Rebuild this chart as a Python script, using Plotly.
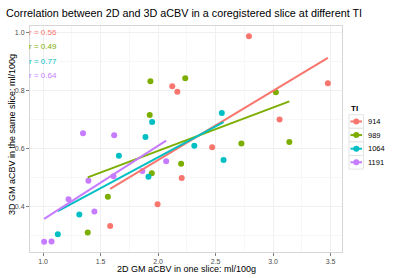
import numpy as np
import plotly.graph_objects as go

# ---- data ----
groups = ["914", "989", "1064", "1191"]
colors = ["#F8766D", "#7CAE00", "#00BFC4", "#C77CFF"]
r_labels = ["r = 0.56", "r = 0.49", "r = 0.77", "r = 0.64"]
r_label_y = [1.0, 0.95, 0.90, 0.85]

x_914 = [2.79, 2.123, 2.167, 3.476, 3.056, 2.47, 2.205, 1.995, 1.583]
y_914 = [0.986, 0.814, 0.795, 0.824, 0.700, 0.604, 0.498, 0.408, 0.333]

x_989 = [1.933, 2.236, 3.024, 1.927, 2.20, 1.945, 1.563, 1.388, 2.724, 3.141]
y_989 = [0.831, 0.842, 0.793, 0.715, 0.547, 0.515, 0.434, 0.311, 0.617, 0.622]

x_1064 = [1.948, 2.554, 1.89, 1.659, 2.315, 2.569, 1.916, 1.315, 1.128]
y_1064 = [0.691, 0.722, 0.639, 0.575, 0.609, 0.560, 0.503, 0.373, 0.305]

x_1191 = [1.347, 1.618, 2.07, 1.863, 1.394, 1.612, 1.221, 1.446, 1.009, 1.073]
y_1191 = [0.652, 0.645, 0.556, 0.522, 0.489, 0.504, 0.425, 0.383, 0.279, 0.280]

xs = [x_914, x_989, x_1064, x_1191]
ys = [y_914, y_989, y_1064, y_1191]

x_ticks = [1.0, 1.5, 2.0, 2.5, 3.0, 3.5]
y_ticks = [0.4, 0.6, 0.8, 1.0]

FONT = "Liberation Sans, Arial, sans-serif"
W, H = 400, 278
ML, MR, MT, MB = 30, 58, 26, 26
PW, PH = W - ML - MR, H - MT - MB

def px2x(px):
    return (px - ML) / PW

def py2y(py):
    return 1 - (py - MT) / PH

fig = go.Figure()

for g, c, x, y in zip(groups, colors, xs, ys):
    fig.add_trace(go.Scatter(x=x, y=y, mode="markers", name=g, showlegend=False,
                             marker=dict(color=c, size=6, line=dict(width=0))))
for g, c, x, y in zip(groups, colors, xs, ys):
    xa = np.array(x)
    k, b = np.polyfit(xa, np.array(y), 1)
    xl = np.array([xa.min(), xa.max()])
    fig.add_trace(go.Scatter(x=xl, y=k * xl + b, mode="lines", showlegend=False,
                             line=dict(color=c, width=2)))

# r annotations
for lab, c, yy in zip(r_labels, colors, r_label_y):
    fig.add_annotation(x=1.0, y=yy, xref="x", yref="y", text=lab, showarrow=False,
                       font=dict(family=FONT, size=8, color=c), xanchor="center", yanchor="middle")

# manual legend
fig.add_annotation(x=px2x(349), y=py2y(108), xref="paper", yref="paper", text="<b>TI</b>",
                   showarrow=False, xanchor="left", yanchor="middle",
                   font=dict(family=FONT, size=8, color="black"))
for i, (g, c) in enumerate(zip(groups, colors)):
    cy = 121.5 + i * 13.6
    fig.add_shape(type="rect", xref="paper", yref="paper",
                  x0=px2x(349), x1=px2x(363.5), y0=py2y(cy - 6.8), y1=py2y(cy + 6.8),
                  line=dict(color="#e3e3e3", width=1), fillcolor="white", layer="above")
    fig.add_shape(type="line", xref="paper", yref="paper",
                  x0=px2x(350.5), x1=px2x(362), y0=py2y(cy), y1=py2y(cy),
                  line=dict(color=c, width=2), layer="above")
    fig.add_shape(type="circle", xref="paper", yref="paper",
                  x0=px2x(353.3), x1=px2x(359.3), y0=py2y(cy - 3), y1=py2y(cy + 3),
                  line=dict(width=0), fillcolor=c, layer="above")
    fig.add_annotation(x=px2x(365.5), y=py2y(cy), xref="paper", yref="paper", text=g,
                       showarrow=False, xanchor="left", yanchor="middle",
                       font=dict(family=FONT, size=7.5, color="black"))

# axis titles
fig.add_annotation(x=px2x(186), y=py2y(269), xref="paper", yref="paper",
                   text="2D GM aCBV in one slice: ml/100g", showarrow=False,
                   xanchor="center", yanchor="middle", font=dict(family=FONT, size=9, color="black"))
fig.add_annotation(x=px2x(12), y=py2y(135), xref="paper", yref="paper",
                   text="3D GM aCBV in the same slice: ml/100g", showarrow=False, textangle=-90,
                   xanchor="center", yanchor="middle", font=dict(family=FONT, size=9, color="black"))

axis_common = dict(showline=True, mirror=True, linecolor="#d6d6d6", linewidth=1,
                   showgrid=True, gridcolor="#f0f0f0", gridwidth=1, zeroline=False,
                   ticks="outside", ticklen=3, tickcolor="#7f7f7f", tickwidth=1,
                   tickfont=dict(family=FONT, size=7, color="#4d4d4d"))

fig.update_xaxes(range=[0.886, 3.599], tickvals=x_ticks,
                 ticktext=[f"{v:.1f}" for v in x_ticks],
                 minor=dict(dtick=0.25, tick0=0.75, showgrid=True, gridcolor="#f7f7f7"),
                 **axis_common)
fig.update_yaxes(range=[0.2436, 1.0214], tickvals=y_ticks,
                 ticktext=[f"{v:.1f}" for v in y_ticks],
                 minor=dict(dtick=0.1, tick0=0.3, showgrid=True, gridcolor="#f7f7f7"),
                 **axis_common)

fig.update_layout(
    width=W, height=H,
    margin=dict(l=ML, r=MR, t=MT, b=MB),
    paper_bgcolor="white", plot_bgcolor="white",
    title=dict(text="Correlation between 2D and 3D aCBV in a coregistered slice at different TI",
               x=6 / W, xanchor="left", xref="container", y=1 - 13 / H, yanchor="middle",
               yref="container", font=dict(family=FONT, size=10.8, color="black")),
    showlegend=False,
)

fig.write_html("out.html", config={"displayModeBar": False},
               post_script="document.body.style.margin='0';document.body.style.overflow='hidden';")
